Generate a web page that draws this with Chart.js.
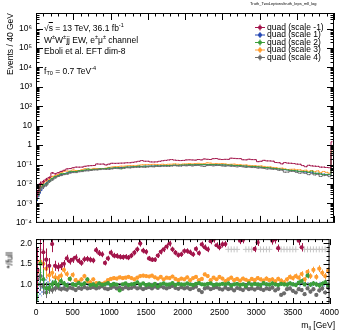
<!DOCTYPE html>
<html>
<head>
<meta charset="utf-8">
<script src="https://cdn.jsdelivr.net/npm/chart.js@4.4.1/dist/chart.umd.min.js"></script>
<style>
html, body { margin: 0; padding: 0; background: #fff; }
#wrap { position: relative; width: 343px; height: 331px; overflow: hidden; font-family: "Liberation Sans", Arial, sans-serif; color: #000; }
#topPad { position: absolute; left: 0; top: 0; }
#ratioPad { position: absolute; left: 0; top: 230px; }
.t { position: absolute; white-space: nowrap; line-height: 1; font-size: 8.5px; }
.t sup, .t sub { font-size: 0.65em; line-height: 0; position: relative; vertical-align: baseline; }
.t sup { top: -0.55em; }
.t sub { top: 0.3em; }
.vt { position: absolute; writing-mode: vertical-rl; transform: rotate(180deg); white-space: nowrap; line-height: 1; font-size: 8.5px; }
</style>
</head>
<body>
<div id="wrap">
  <canvas id="topPad" width="343" height="232"></canvas>
  <canvas id="ratioPad" width="343" height="101"></canvas>
  <div class="t" style="left:250px;top:2px;font-size:4px;">Truth_TwoLeptons/truth_leps_mll_log</div>
  <div class="t" style="left:44px;top:23.5px;">&radic;<span style="text-decoration:overline">s</span> = 13 TeV, 36.1 fb<sup>-1</sup></div>
  <div class="t" style="left:44px;top:35.5px;">W<sup>&plusmn;</sup>W<sup>&plusmn;</sup>jj EW, e<sup>&plusmn;</sup>&mu;<sup>&plusmn;</sup> channel</div>
  <div class="t" style="left:44px;top:46.5px;">Eboli et al. EFT dim-8</div>
  <div class="t" style="left:44px;top:66.5px;">f<sub>T0</sub> = 0.7 TeV<sup>-4</sup></div>
  <div class="vt" style="left:5.5px;top:13px;">Events / 40 GeV</div>
  <div class="vt" style="left:5.5px;top:252px;">*/full</div>
  <div class="t" style="right:8px;top:321px;">m<sub>ll</sub> [GeV]</div>
</div>
<script>
// 100 bins of 40 GeV
const binWidth = 40;
const massCentres = Array.from({ length: 100 }, (_, i) => binWidth * i + binWidth / 2);

const seriesLabels = ['quad (scale -1)', 'quad (scale 1)', 'quad (scale 2)', 'quad (scale 3)', 'quad (scale 4)'];

// events / 40 GeV, upper pad
const eventsM1 = [
  0.0035, 0.0104, 0.0134, 0.0176, 0.0218, 0.0376, 0.0334, 0.0383, 0.0446, 0.051,
  0.0603, 0.0624, 0.0688, 0.0743, 0.0738, 0.0745, 0.0821, 0.0859, 0.088, 0.0901,
  0.108, 0.1056, 0.107, 0.0958, 0.106, 0.117, 0.116, 0.117, 0.119, 0.12,
  0.124, 0.124, 0.131, 0.138, 0.148, 0.161, 0.149, 0.149, 0.137, 0.136,
  0.138, 0.148, 0.158, 0.165, 0.173, 0.181, 0.170, 0.165, 0.161, 0.164,
  0.174, 0.176, 0.173, 0.170, 0.182, 0.174, 0.195, 0.188, 0.183, 0.201,
  0.205, 0.189, 0.182, 0.187, 0.186, 0.214, 0.209, 0.203, 0.202, 0.177,
  0.175, 0.189, 0.18, 0.179, 0.141, 0.149, 0.166, 0.155, 0.154, 0.15,
  0.128, 0.125, 0.109, 0.127, 0.119, 0.117, 0.113, 0.106, 0.104, 0.089,
  0.078, 0.092, 0.086, 0.083, 0.081, 0.074, 0.074, 0.071, 0.069, 1.5
];
const eventsS1 = [
  0.0022, 0.0046, 0.0074, 0.0108, 0.0152, 0.0188, 0.0232, 0.0268, 0.0312, 0.0338,
  0.0372, 0.0398, 0.0432, 0.0447, 0.0473, 0.0488, 0.0512, 0.0528, 0.0553, 0.0567,
  0.0592, 0.0598, 0.0623, 0.0628, 0.0652, 0.0657, 0.0683, 0.0688, 0.0712, 0.0718,
  0.0742, 0.0748, 0.0772, 0.0778, 0.0802, 0.0808, 0.0823, 0.0828, 0.0843, 0.0847,
  0.0862, 0.0868, 0.0882, 0.0887, 0.0902, 0.0907, 0.0922, 0.0927, 0.0942, 0.0947,
  0.0962, 0.0967, 0.0972, 0.0978, 0.0982, 0.0988, 0.0992, 0.0988, 0.0991, 0.0978,
  0.0982, 0.0968, 0.0962, 0.0948, 0.0942, 0.0928, 0.0912, 0.0898, 0.0882, 0.0858,
  0.0842, 0.0818, 0.0802, 0.0778, 0.0762, 0.0738, 0.0722, 0.0688, 0.0672, 0.0648,
  0.0622, 0.0598, 0.0582, 0.0548, 0.0532, 0.0508, 0.0492, 0.0468, 0.0452, 0.0428,
  0.0412, 0.0398, 0.0382, 0.0358, 0.0352, 0.0328, 0.0322, 0.0308, 0.0302, 0.30
];
const eventsS2 = [
  0.0026, 0.0068, 0.0084, 0.0099, 0.0138, 0.019, 0.0242, 0.0265, 0.0335, 0.0347,
  0.0359, 0.0452, 0.043, 0.0441, 0.0484, 0.0485, 0.052, 0.0594, 0.0539, 0.057,
  0.0572, 0.0612, 0.0614, 0.063, 0.067, 0.0647, 0.0687, 0.0683, 0.0604, 0.072,
  0.0755, 0.0735, 0.077, 0.0788, 0.084, 0.0802, 0.0836, 0.0813, 0.084, 0.0825,
  0.0869, 0.0827, 0.088, 0.0908, 0.0891, 0.091, 0.0948, 0.0911, 0.0949, 0.095,
  0.095, 0.0989, 0.097, 0.096, 0.099, 0.102, 0.099, 0.098, 0.1, 0.1,
  0.096, 0.097, 0.095, 0.096, 0.094, 0.0949, 0.0883, 0.09, 0.0889, 0.0843,
  0.084, 0.0787, 0.0816, 0.0772, 0.0768, 0.074, 0.0706, 0.0711, 0.067, 0.0644,
  0.0632, 0.06, 0.0568, 0.0556, 0.053, 0.0505, 0.05, 0.047, 0.0441, 0.0447,
  0.0443, 0.04, 0.046, 0.0356, 0.0357, 0.033, 0.031, 0.0313, 0.0315, 0.4
];
const eventsS3 = [
  0.0034, 0.007, 0.0113, 0.0152, 0.0183, 0.0243, 0.0269, 0.031, 0.0375, 0.0459,
  0.0463, 0.0452, 0.0529, 0.0495, 0.0498, 0.0549, 0.0612, 0.0572, 0.0578, 0.0638,
  0.0608, 0.0612, 0.0626, 0.0655, 0.0715, 0.0746, 0.0782, 0.0787, 0.0831, 0.0828,
  0.0858, 0.0885, 0.0886, 0.0874, 0.0928, 0.0972, 0.0992, 0.0996, 0.1, 0.103,
  0.101, 0.0992, 0.104, 0.0997, 0.104, 0.105, 0.109, 0.105, 0.103, 0.108,
  0.108, 0.113, 0.107, 0.113, 0.116, 0.109, 0.112, 0.123, 0.119, 0.108,
  0.114, 0.109, 0.113, 0.108, 0.102, 0.104, 0.106, 0.099, 0.0994, 0.0937,
  0.0958, 0.091, 0.0864, 0.0881, 0.0836, 0.0851, 0.0806, 0.0752, 0.0764, 0.0715,
  0.0694, 0.0642, 0.0655, 0.06, 0.0557, 0.0571, 0.0578, 0.0541, 0.054, 0.0499,
  0.0513, 0.0448, 0.0494, 0.0432, 0.0473, 0.0389, 0.0442, 0.0397, 0.036, 0.5
];
const eventsS4 = [
  0.0029, 0.0054, 0.0071, 0.0088, 0.0132, 0.0163, 0.0207, 0.0248, 0.0273, 0.0306,
  0.0322, 0.0368, 0.0387, 0.0387, 0.0428, 0.0436, 0.0474, 0.0477, 0.05, 0.053,
  0.0531, 0.0552, 0.0589, 0.0567, 0.0572, 0.0601, 0.0639, 0.0621, 0.0653, 0.0641,
  0.0688, 0.0675, 0.0701, 0.0733, 0.072, 0.0745, 0.0722, 0.0755, 0.0781, 0.0765,
  0.0808, 0.0792, 0.0836, 0.0819, 0.081, 0.0846, 0.0883, 0.0846, 0.0837, 0.0884,
  0.0864, 0.0892, 0.0854, 0.0892, 0.0921, 0.0851, 0.0802, 0.0891, 0.0911, 0.0862,
  0.0892, 0.0902, 0.0854, 0.0827, 0.0865, 0.0818, 0.0819, 0.0765, 0.0801, 0.0765,
  0.0722, 0.0754, 0.0704, 0.0702, 0.0661, 0.0673, 0.0641, 0.0593, 0.0603, 0.0572,
  0.057, 0.051, 0.0516, 0.0407, 0.0413, 0.0449, 0.0441, 0.0395, 0.036, 0.0378,
  0.0353, 0.0304, 0.0342, 0.0295, 0.0308, 0.0244, 0.0272, 0.0279, 0.024, 0.35
];

// ratio to full, lower pad
const ratioM1 = [
  1.35, 2.3, 1.78, 1.6, 1.45, 1.98, 1.45, 1.42, 1.44, 1.5,
  1.63, 1.56, 1.6, 1.65, 1.57, 1.52, 1.61, 1.62, 1.6, 1.58,
  1.83, 1.76, 1.73, 1.52, 1.63, 1.77, 1.7, 1.69, 1.67, 1.66,
  1.67, 1.65, 1.7, 1.77, 1.85, 1.99, 1.82, 1.79, 1.63, 1.6,
  1.6, 1.7, 1.79, 1.85, 1.92, 1.99, 1.85, 1.77, 1.71, 1.73,
  1.81, 1.81, 1.78, 1.73, 1.86, 1.76, 1.97, 1.9, 1.85, 2.05,
  2.09, 1.95, 1.9, 1.97, 1.98, 2.3, 2.3, 2.25, 2.3, 2.06,
  2.08, 2.3, 2.25, 2.3, 1.86, 2.02, 2.3, 2.25, 2.3, 2.3,
  2.06, 2.09, 1.88, 2.3, 2.25, 2.3, 2.3, 2.25, 2.3, 2.06,
  1.9, 2.3, 2.25, 2.3, 2.3, 2.25, 2.3, 2.3, 2.3, 2.3
];
const ratioS2 = [
  1.0, 1.5, 1.12, 0.9, 0.92, 1.0, 1.05, 0.98, 1.08, 1.02,
  0.97, 1.13, 1.0, 0.98, 1.03, 0.99, 1.02, 1.12, 0.98, 1.0,
  0.97, 1.02, 0.99, 1.0, 1.03, 0.98, 1.01, 0.99, 0.85, 1.0,
  1.02, 0.98, 1.0, 1.01, 1.05, 0.99, 1.02, 0.98, 1.0, 0.97,
  1.01, 0.95, 1.0, 1.02, 0.99, 1.0, 1.03, 0.98, 1.01, 1.0,
  0.99, 1.02, 1.0, 0.98, 1.01, 1.03, 1.0, 0.99, 1.01, 1.02,
  0.98, 1.0, 0.99, 1.01, 1.0, 1.02, 0.97, 1.0, 1.01, 0.98,
  1.0, 0.96, 1.02, 0.99, 1.01, 1.0, 0.98, 1.03, 1.0, 0.99,
  1.02, 1.0, 0.98, 1.01, 1.0, 0.99, 1.02, 1.0, 0.98, 1.04,
  1.08, 1.0, 1.21, 0.99, 1.02, 1.0, 0.97, 1.01, 1.05, 0.98
];
const ratioS3 = [
  1.3, 1.55, 1.5, 1.38, 1.22, 1.28, 1.17, 1.15, 1.21, 1.35,
  1.25, 1.13, 1.23, 1.1, 1.06, 1.12, 1.2, 1.08, 1.05, 1.12,
  1.03, 1.02, 1.01, 1.04, 1.1, 1.13, 1.15, 1.14, 1.17, 1.15,
  1.16, 1.18, 1.15, 1.12, 1.16, 1.2, 1.21, 1.2, 1.19, 1.21,
  1.17, 1.14, 1.18, 1.12, 1.16, 1.15, 1.19, 1.13, 1.1, 1.14,
  1.12, 1.17, 1.1, 1.15, 1.18, 1.1, 1.13, 1.24, 1.2, 1.1,
  1.16, 1.12, 1.18, 1.14, 1.08, 1.12, 1.16, 1.1, 1.13, 1.09,
  1.14, 1.11, 1.08, 1.13, 1.1, 1.15, 1.12, 1.09, 1.14, 1.1,
  1.12, 1.07, 1.13, 1.09, 1.05, 1.12, 1.18, 1.15, 1.2, 1.16,
  1.25, 1.12, 1.3, 1.2, 1.35, 1.18, 1.38, 1.28, 1.2, 1.33
];
const ratioS4 = [
  1.12, 1.2, 0.95, 0.8, 0.88, 0.86, 0.9, 0.92, 0.88, 0.9,
  0.87, 0.92, 0.9, 0.86, 0.91, 0.89, 0.93, 0.9, 0.91, 0.93,
  0.9, 0.92, 0.95, 0.9, 0.88, 0.91, 0.94, 0.9, 0.92, 0.89,
  0.93, 0.9, 0.91, 0.94, 0.9, 0.92, 0.88, 0.91, 0.93, 0.9,
  0.94, 0.91, 0.95, 0.92, 0.9, 0.93, 0.96, 0.91, 0.89, 0.93,
  0.9, 0.92, 0.88, 0.91, 0.94, 0.86, 0.81, 0.9, 0.92, 0.88,
  0.91, 0.93, 0.89, 0.87, 0.92, 0.88, 0.9, 0.85, 0.91, 0.89,
  0.86, 0.92, 0.88, 0.9, 0.87, 0.91, 0.89, 0.86, 0.9, 0.88,
  0.92, 0.85, 0.89, 0.74, 0.78, 0.88, 0.9, 0.84, 0.8, 0.88,
  0.86, 0.76, 0.9, 0.82, 0.88, 0.74, 0.85, 0.9, 0.8, 0.92
];
// relative statistical uncertainty per bin
const relErr = [
  0.40, 0.30, 0.22, 0.17, 0.13, 0.10, 0.085, 0.075, 0.065, 0.06,
  0.055, 0.052, 0.05, 0.048, 0.047, 0.046, 0.045, 0.044, 0.044, 0.043,
  0.042, 0.042, 0.041, 0.041, 0.04, 0.04, 0.04, 0.039, 0.039, 0.039,
  0.038, 0.038, 0.038, 0.038, 0.037, 0.037, 0.037, 0.037, 0.037, 0.036,
  0.036, 0.036, 0.036, 0.036, 0.036, 0.036, 0.036, 0.036, 0.036, 0.036,
  0.036, 0.036, 0.036, 0.036, 0.036, 0.036, 0.036, 0.037, 0.037, 0.037,
  0.037, 0.037, 0.038, 0.038, 0.038, 0.038, 0.039, 0.039, 0.039, 0.04,
  0.04, 0.041, 0.041, 0.042, 0.042, 0.043, 0.043, 0.044, 0.045, 0.045,
  0.046, 0.047, 0.047, 0.048, 0.049, 0.05, 0.05, 0.051, 0.052, 0.053,
  0.054, 0.055, 0.056, 0.057, 0.058, 0.059, 0.06, 0.061, 0.062, 0.063
];

const countTicks = [1e-4, 1e-3, 1e-2, 1e-1, 1, 10, 1e2, 1e3, 1e4, 1e5, 1e6];
const countTickLabels = ['10\u207B\u2074', '10\u207B\u00B3', '10\u207B\u00B2', '10\u207B\u00B9', '1', '10', '10\u00B2', '10\u00B3', '10\u2074', '10\u2075', '10\u2076'];
const ratioTicks = [1.0, 1.5, 2.0];
const massTicks = [0, 500, 1000, 1500, 2000, 2500, 3000, 3500, 4000];

const countMax = 6.3e6;
const ratioMin = 0.52, ratioMax = 2.1;
const overflowLevel = 1.85;

const colM1 = '#a3154b', colS1 = '#2447b3', colS2 = '#3a9e3a', colS3 = '#ff9c2e', colS4 = '#6b6b6b';

Chart.defaults.font.family = '"Liberation Sans", Arial, sans-serif';
Chart.defaults.font.size = 8.5;
Chart.defaults.color = '#000';

function xy(vals) {
  return vals.map((v, i) => ({ x: massCentres[i], y: v }));
}

function hatch(colour) {
  const c = document.createElement('canvas');
  c.width = 4; c.height = 4;
  const g = c.getContext('2d');
  g.strokeStyle = colour; g.lineWidth = 0.8;
  g.beginPath();
  g.moveTo(0, 4); g.lineTo(4, 0);
  g.moveTo(0, 0); g.lineTo(4, 4);
  g.stroke();
  return g.createPattern(c, 'repeat');
}

// ROOT style frame with inward ticks on all four sides
const rootFrame = {
  id: 'rootFrame',
  afterDraw(chart, args, o) {
    const ctx = chart.ctx, a = chart.chartArea;
    const xs = chart.scales.x, ys = chart.scales.y;
    ctx.save();
    ctx.strokeStyle = '#000';
    ctx.lineWidth = 1;
    ctx.strokeRect(a.left + 0.5, a.top + 0.5, a.right - a.left - 1, a.bottom - a.top - 1);
    ctx.beginPath();
    for (let v = 0; v <= 4000; v += 100) {
      const px = Math.round(xs.getPixelForValue(v)) + 0.5;
      const len = v % 500 === 0 ? o.xMajor : o.xMinor;
      ctx.moveTo(px, a.bottom); ctx.lineTo(px, a.bottom - len);
      ctx.moveTo(px, a.top); ctx.lineTo(px, a.top + len);
    }
    o.yTicks.forEach(t => {
      const py = Math.round(ys.getPixelForValue(t[0])) + 0.5;
      if (py < a.top || py > a.bottom) return;
      const len = t[1] ? o.yMajor : o.yMinor;
      ctx.moveTo(a.left, py); ctx.lineTo(a.left + len, py);
      ctx.moveTo(a.right, py); ctx.lineTo(a.right - len, py);
    });
    ctx.stroke();
    ctx.restore();
  }
};

const errorBars = {
  id: 'errorBars',
  afterDatasetDraw(chart, args) {
    const ds = chart.data.datasets[args.index];
    if (!ds.relErr) return;
    const ctx = chart.ctx, a = chart.chartArea, ys = chart.scales.y;
    ctx.save();
    ctx.beginPath();
    ctx.rect(a.left, a.top, a.right - a.left, a.bottom - a.top);
    ctx.clip();
    ctx.strokeStyle = ds.borderColor;
    ctx.lineWidth = 1;
    ctx.beginPath();
    args.meta.data.forEach((pt, i) => {
      const v = ds.data[i].y;
      const e = v * ds.relErr[i];
      const px = Math.round(pt.x) + 0.5;
      ctx.moveTo(px, ys.getPixelForValue(v - e));
      ctx.lineTo(px, ys.getPixelForValue(v + e));
    });
    ctx.stroke();
    ctx.restore();
  }
};

const rootLegend = {
  id: 'rootLegend',
  afterDraw(chart) {
    const ctx = chart.ctx;
    ctx.save();
    ctx.font = '8.5px "Liberation Sans", Arial, sans-serif';
    ctx.textBaseline = 'middle';
    chart.data.datasets.forEach((ds, i) => {
      const x = 260, y = 27.5 + i * 7.5;
      ctx.strokeStyle = ds.borderColor;
      ctx.fillStyle = ds.borderColor;
      ctx.lineWidth = 1;
      ctx.beginPath();
      ctx.moveTo(x - 5, y); ctx.lineTo(x + 5, y);
      ctx.moveTo(x, y - 3); ctx.lineTo(x, y + 3);
      ctx.stroke();
      ctx.beginPath();
      ctx.arc(x, y, 2, 0, Math.PI * 2);
      ctx.fill();
      ctx.fillStyle = '#000';
      ctx.fillText(ds.label, x + 7, y);
    });
    ctx.restore();
  }
};

function stepSet(label, vals, colour, order) {
  return {
    label: label, data: xy(vals), relErr: relErr, order: order,
    borderColor: colour, backgroundColor: colour,
    borderWidth: 1, stepped: 'middle', pointRadius: 0, fill: false
  };
}

function pointSet(label, vals, colour) {
  return {
    label: label, data: xy(vals), relErr: relErr,
    borderColor: colour, backgroundColor: colour,
    showLine: false, pointRadius: 2.1, pointBorderWidth: 0
  };
}

const logMinor = [];
countTicks.forEach(d => {
  logMinor.push([d, true]);
  for (let k = 2; k <= 9; k++) logMinor.push([d * k, false]);
});
const ratioMinor = [];
for (let k = 6; k <= 21; k++) ratioMinor.push([k / 10, k % 5 === 0]);

new Chart(document.getElementById('topPad'), {
  type: 'line',
  data: {
    datasets: [
      stepSet(seriesLabels[0], eventsM1, colM1, 0),
      stepSet(seriesLabels[1], eventsS1, colS1, 4),
      stepSet(seriesLabels[2], eventsS2, colS2, 2),
      stepSet(seriesLabels[3], eventsS3, colS3, 3),
      stepSet(seriesLabels[4], eventsS4, colS4, 1)
    ]
  },
  options: {
    responsive: false,
    animation: false,
    layout: { autoPadding: false, padding: { left: 0, top: 13, right: 9, bottom: 4 } },
    plugins: {
      legend: { display: false },
      tooltip: { enabled: false },
      rootFrame: { xMajor: 7, xMinor: 3.5, yMajor: 7, yMinor: 3.5, yTicks: logMinor }
    },
    scales: {
      x: { type: 'linear', min: 0, max: 4000, display: false },
      y: {
        type: 'logarithmic', min: 1e-4, max: countMax, bounds: 'data',
        grid: { display: false, drawTicks: false }, border: { display: false },
        afterBuildTicks: s => { s.ticks = countTicks.map(v => ({ value: v })); },
        afterFit: s => { s.width = 36; },
        ticks: {
          autoSkip: false, padding: 4, color: '#000',
          callback: v => countTickLabels[countTicks.indexOf(v)]
        }
      }
    }
  },
  plugins: [errorBars, rootFrame, rootLegend]
});

const ratioCtx = document.getElementById('ratioPad').getContext('2d');
const overflowPts = [];
ratioM1.forEach((r, i) => { if (r > ratioMax) overflowPts.push({ x: massCentres[i], y: overflowLevel }); });

new Chart(ratioCtx, {
  type: 'line',
  data: {
    datasets: [
      pointSet(seriesLabels[0], ratioM1, colM1),
      pointSet(seriesLabels[2], ratioS2, colS2),
      pointSet(seriesLabels[3], ratioS3, colS3),
      pointSet(seriesLabels[4], ratioS4, colS4),
      {
        label: 'out of range', data: overflowPts, showLine: false,
        pointStyle: 'cross', pointRadius: 3, borderColor: '#c4c4c4', borderWidth: 1
      },
      {
        label: 'unity', data: [{ x: 0, y: 1 }, { x: 4000, y: 1 }],
        borderColor: '#000', borderWidth: 1.6, pointRadius: 0
      },
      {
        label: 'full up', data: xy(relErr.map(e => 1 + e)), stepped: 'middle',
        borderWidth: 0, pointRadius: 0, fill: '+1', backgroundColor: hatch('#86a8e6')
      },
      {
        label: 'full down', data: xy(relErr.map(e => 1 - e)), stepped: 'middle',
        borderWidth: 0, pointRadius: 0, fill: false
      }
    ]
  },
  options: {
    responsive: false,
    animation: false,
    layout: { autoPadding: false, padding: { left: 0, top: 8, right: 9, bottom: 0 } },
    plugins: {
      legend: { display: false },
      tooltip: { enabled: false },
      rootFrame: { xMajor: 6, xMinor: 3, yMajor: 6, yMinor: 3, yTicks: ratioMinor }
    },
    scales: {
      x: {
        type: 'linear', min: 0, max: 4000, bounds: 'data',
        grid: { display: false, drawTicks: false }, border: { display: false },
        afterBuildTicks: s => { s.ticks = massTicks.map(v => ({ value: v })); },
        afterFit: s => { s.height = 27; },
        ticks: { autoSkip: false, maxRotation: 0, padding: 4, color: '#000', callback: v => String(v) }
      },
      y: {
        type: 'linear', min: ratioMin, max: ratioMax, bounds: 'data',
        grid: { display: false, drawTicks: false }, border: { display: false },
        afterBuildTicks: s => { s.ticks = ratioTicks.map(v => ({ value: v })); },
        afterFit: s => { s.width = 36; },
        ticks: { autoSkip: false, padding: 4, color: '#000', callback: v => v.toFixed(1) }
      }
    }
  },
  plugins: [errorBars, rootFrame]
});
</script>
</body>
</html>
